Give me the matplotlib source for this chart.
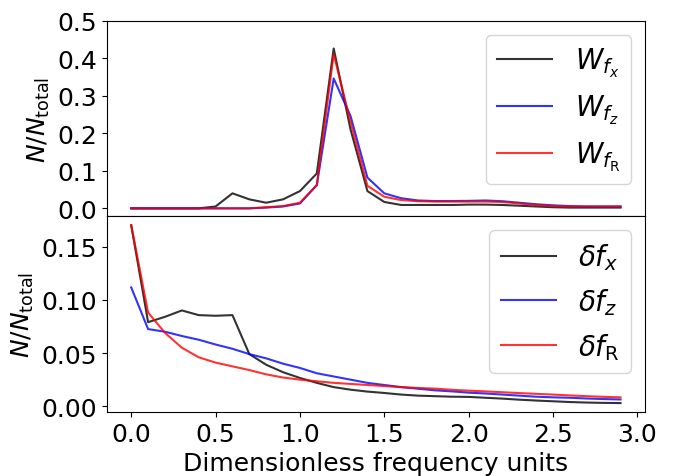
import numpy as np
import matplotlib
matplotlib.use('Agg')
import matplotlib.pyplot as plt
from matplotlib.ticker import MultipleLocator

# frequency bins
freq = np.round(np.arange(0, 3.0, 0.1), 1)

# spectral weights W
W_fx = [0.0, 0.0, 0.0, 0.0, 0.0, 0.005, 0.040, 0.024, 0.015, 0.024,
        0.046, 0.093, 0.426, 0.21, 0.046, 0.017, 0.009, 0.009, 0.009, 0.009,
        0.010, 0.010, 0.009, 0.007, 0.005, 0.003, 0.002, 0.002, 0.002, 0.002]
W_fz = [0.0, 0.0, 0.0, 0.0, 0.0, 0.0, 0.0, 0.0, 0.002, 0.005,
        0.013, 0.062, 0.346, 0.246, 0.082, 0.040, 0.027, 0.021, 0.0195, 0.0195,
        0.020, 0.021, 0.019, 0.015, 0.011, 0.008, 0.006, 0.005, 0.005, 0.005]
W_fR = [0.0, 0.0, 0.0, 0.0, 0.0, 0.0, 0.0, 0.0, 0.003, 0.006,
        0.015, 0.062, 0.411, 0.23, 0.060, 0.031, 0.022, 0.019, 0.018, 0.018,
        0.018, 0.018, 0.017, 0.013, 0.009, 0.006, 0.005, 0.005, 0.005, 0.005]

# frequency shifts delta f
d_fx = [0.170, 0.079, 0.084, 0.090, 0.0856, 0.085, 0.0856, 0.049, 0.039, 0.032,
        0.0266, 0.022, 0.018, 0.0156, 0.0138, 0.0125, 0.011, 0.010, 0.0095, 0.009,
        0.0088, 0.008, 0.0072, 0.0062, 0.0054, 0.0047, 0.004, 0.0035, 0.0032, 0.003]
d_fz = [0.1116, 0.0725, 0.070, 0.066, 0.0625, 0.058, 0.054, 0.049, 0.045, 0.040,
        0.036, 0.031, 0.028, 0.025, 0.022, 0.020, 0.018, 0.0165, 0.015, 0.014,
        0.0128, 0.012, 0.011, 0.010, 0.009, 0.0084, 0.008, 0.0073, 0.0068, 0.0064]
d_fR = [0.170, 0.088, 0.069, 0.055, 0.046, 0.041, 0.0375, 0.034, 0.030, 0.027,
        0.025, 0.0235, 0.022, 0.021, 0.020, 0.019, 0.018, 0.0172, 0.0166, 0.0155,
        0.0147, 0.014, 0.0132, 0.0124, 0.0117, 0.011, 0.0102, 0.0095, 0.0089, 0.0084]

fig, (ax1, ax2) = plt.subplots(2, 1, sharex=True, figsize=(6.8, 4.77), dpi=100)
fig.subplots_adjust(left=0.157, right=0.9485, top=0.9545, bottom=0.1342, hspace=0)

a = 0.8
ax1.plot(freq, W_fx, color='black', alpha=a, label=r'$W_{f_x}$')
ax1.plot(freq, W_fz, color='blue', alpha=a, label=r'$W_{f_z}$')
ax1.plot(freq, W_fR, color='red', alpha=a, label=r'$W_{f_{\rm R}}$')
ax1.set_ylim(top=0.5)
ax1.yaxis.set_major_locator(MultipleLocator(0.1))
ax1.set_ylabel(r'$N/N_{\rm total}$', fontsize=18)
ax1.legend(fontsize=20, loc='upper right')

ax2.plot(freq, d_fx, color='black', alpha=a, label=r'$\delta f_x$')
ax2.plot(freq, d_fz, color='blue', alpha=a, label=r'$\delta f_z$')
ax2.plot(freq, d_fR, color='red', alpha=a, label=r'$\delta f_{\rm R}$')
ax2.yaxis.set_major_locator(MultipleLocator(0.05))
ax2.set_ylabel(r'$N/N_{\rm total}$', fontsize=18)
ax2.set_xlabel('Dimensionless frequency units', fontsize=18)
ax2.legend(fontsize=20, loc='upper right')

for ax in (ax1, ax2):
    ax.tick_params(labelsize=18)

fig.savefig('out.png', dpi=100)
